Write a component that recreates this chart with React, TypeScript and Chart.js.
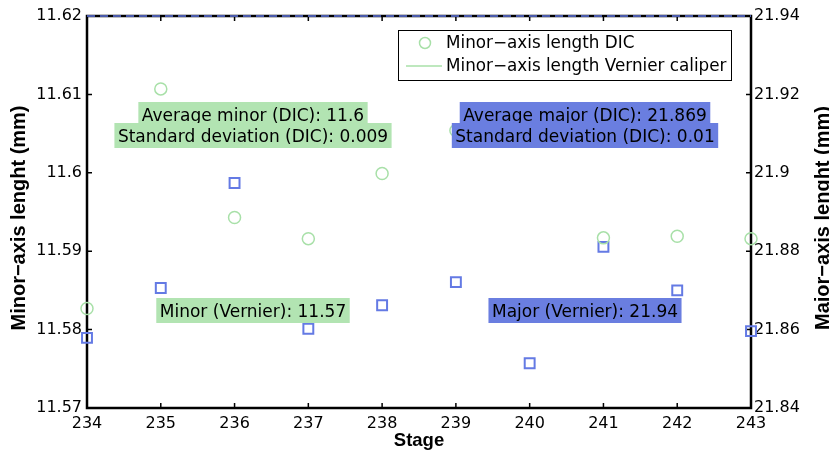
import React, { useEffect, useRef } from 'react';
import { Chart, registerables } from 'chart.js';

Chart.register(...registerables);

// ---- data ----
const stages = [234, 235, 236, 237, 238, 239, 240, 241, 242, 243];
const minorDIC = [11.5827, 11.6107, 11.5943, 11.5916, 11.5999, 11.6054, 11.6140, 11.5917, 11.5919, 11.5916];
const majorDIC = [21.8579, 21.8706, 21.8974, 21.8602, 21.8662, 21.8721, 21.8514, 21.8811, 21.87, 21.8596];
const minorVernier = 11.57;
const majorVernier = 21.94;

const stageTicks = [234, 235, 236, 237, 238, 239, 240, 241, 242, 243];
const minorTicks = [11.57, 11.58, 11.59, 11.6, 11.61, 11.62];
const majorTicks = [21.84, 21.86, 21.88, 21.9, 21.92, 21.94];

const legendLabels = ['Minor\u2212axis length DIC', 'Minor\u2212axis length Vernier caliper'];
const minorStatsLines = ['Average minor (DIC): 11.6', 'Standard deviation (DIC): 0.009'];
const majorStatsLines = ['Average major (DIC): 21.869', 'Standard deviation (DIC): 0.01'];
const minorVernierLabel = 'Minor (Vernier): 11.57';
const majorVernierLabel = 'Major (Vernier): 21.94';
const xTitle = 'Stage';
const yTitle = 'Minor\u2212axis lenght (mm)';
const y2Title = 'Major\u2212axis lenght (mm)';

// ---- styles ----
const GREEN = 'rgb(168,224,168)';
const GREEN_FILL = 'rgb(178,228,178)';
const BLUE = 'rgb(100,122,228)';
const BLUE_FILL = 'rgb(106,126,224)';
const TEXT_FONT = '"DejaVu Sans", sans-serif';
const BOLD_FONT = 'bold 20px "Liberation Sans", Arial, sans-serif';

function drawBoxedLines(ctx: CanvasRenderingContext2D, lines: string[], cx: number, baseline0: number, fill: string) {
  ctx.font = `17px ${TEXT_FONT}`;
  ctx.textAlign = 'center';
  ctx.textBaseline = 'alphabetic';
  lines.forEach((t, i) => {
    const b = baseline0 + i * 21;
    const w = ctx.measureText(t).width + 7;
    ctx.fillStyle = fill;
    ctx.fillRect(cx - w / 2, b - 19, w, 25);
    ctx.fillStyle = '#000';
    ctx.fillText(t, cx, b);
  });
}

function drawFrame(chart: any) {
  const { ctx, chartArea, scales } = chart;
  const { left, right, top, bottom } = chartArea;
  ctx.save();
  ctx.strokeStyle = '#000';
  ctx.lineWidth = 2.5;
  ctx.strokeRect(left, top, right - left, bottom - top);
  ctx.lineWidth = 1.5;
  const tl = 5;
  ctx.beginPath();
  for (const v of stageTicks) {
    const x = scales.x.getPixelForValue(v);
    ctx.moveTo(x, bottom); ctx.lineTo(x, bottom - tl);
    ctx.moveTo(x, top); ctx.lineTo(x, top + tl);
  }
  for (const v of minorTicks) {
    const y = scales.y.getPixelForValue(v);
    ctx.moveTo(left, y); ctx.lineTo(left + tl, y);
  }
  for (const v of majorTicks) {
    const y = scales.y2.getPixelForValue(v);
    ctx.moveTo(right, y); ctx.lineTo(right - tl, y);
  }
  ctx.stroke();
  ctx.restore();
}

const decorPlugin = {
  id: 'decor',
  afterDatasetDraw(chart: any, args: any) {
    // frame goes right after the (bottom-most) Vernier minor line
    if (args.index === 1) drawFrame(chart);
  },
  afterDatasetsDraw(chart: any) {
    const { ctx, chartArea } = chart;
    const { left, right } = chartArea;
    ctx.save();
    // annotations
    drawBoxedLines(ctx, minorStatsLines, 253, 121, GREEN_FILL);
    drawBoxedLines(ctx, majorStatsLines, 585, 121, BLUE_FILL);
    drawBoxedLines(ctx, [minorVernierLabel], 253, 317, GREEN_FILL);
    drawBoxedLines(ctx, [majorVernierLabel], 585, 317, BLUE_FILL);

    // legend
    const lx = 398, ly = 30, lw = 333, lh = 50;
    ctx.fillStyle = '#fff';
    ctx.fillRect(lx, ly, lw, lh);
    ctx.strokeStyle = '#000';
    ctx.lineWidth = 1;
    ctx.strokeRect(lx + 0.5, ly + 0.5, lw, lh);
    ctx.strokeStyle = GREEN;
    ctx.lineWidth = 1.5;
    ctx.beginPath();
    ctx.arc(425, 43, 5.5, 0, Math.PI * 2);
    ctx.stroke();
    ctx.beginPath();
    ctx.moveTo(406, 66); ctx.lineTo(442, 66);
    ctx.stroke();
    ctx.fillStyle = '#000';
    ctx.font = `16.8px ${TEXT_FONT}`;
    ctx.textAlign = 'left';
    ctx.textBaseline = 'middle';
    ctx.fillText(legendLabels[0], 446, 44);
    ctx.fillText(legendLabels[1], 446, 67);

    // axis titles
    ctx.font = BOLD_FONT;
    ctx.textAlign = 'center';
    ctx.textBaseline = 'middle';
    ctx.save();
    ctx.translate(19, 218);
    ctx.rotate(-Math.PI / 2);
    ctx.fillText(yTitle, 0, 0);
    ctx.restore();
    ctx.save();
    ctx.translate(823, 218);
    ctx.rotate(-Math.PI / 2);
    ctx.fillText(y2Title, 0, 0);
    ctx.restore();
    ctx.font = 'bold 18.5px "Liberation Sans", Arial, sans-serif';
    ctx.textBaseline = 'alphabetic';
    ctx.fillText(xTitle, (left + right) / 2, 446);
    ctx.restore();
  },
};

export default function App() {
  const ref = useRef<HTMLCanvasElement>(null);
  useEffect(() => {
    if (!ref.current) return;
    const fmt = (v: any) => String(Number(Number(v).toFixed(2)));
    const tickFont = { family: 'DejaVu Sans', size: 16 };
    const chart = new Chart(ref.current, {
      type: 'scatter',
      data: {
        datasets: [
          {
            label: legendLabels[0],
            data: stages.map((s, i) => ({ x: s, y: minorDIC[i] })),
            yAxisID: 'y',
            pointStyle: 'circle',
            pointRadius: 6,
            borderColor: GREEN,
            backgroundColor: 'rgba(0,0,0,0)',
            borderWidth: 1.5,
            clip: false as any,
            order: 0,
          },
          {
            label: legendLabels[1],
            data: [{ x: stages[0], y: minorVernier }, { x: stages[stages.length - 1], y: minorVernier }],
            yAxisID: 'y',
            showLine: true,
            pointRadius: 0,
            borderColor: GREEN,
            borderWidth: 1.5,
            clip: false as any,
            order: 9,
          },
          {
            label: 'Major-axis length DIC',
            data: stages.map((s, i) => ({ x: s, y: majorDIC[i] })),
            yAxisID: 'y2',
            pointStyle: 'rect',
            pointRadius: 7,
            borderColor: BLUE,
            backgroundColor: 'rgba(0,0,0,0)',
            borderWidth: 2,
            clip: false as any,
            order: 0,
          },
          {
            label: 'Major-axis length Vernier caliper',
            data: [{ x: stages[0], y: majorVernier }, { x: stages[stages.length - 1], y: majorVernier }],
            yAxisID: 'y2',
            showLine: true,
            pointRadius: 0,
            borderColor: BLUE,
            borderWidth: 1.5,
            borderDash: [8, 5],
            clip: false as any,
            order: 0,
          },
        ],
      },
      options: {
        animation: false,
        responsive: false,
        layout: { padding: { top: 16, left: 0, right: 0, bottom: 0 } },
        plugins: { legend: { display: false }, tooltip: { enabled: false } },
        scales: {
          x: {
            type: 'linear',
            min: 234,
            max: 243,
            grid: { display: false, drawTicks: false },
            border: { display: false },
            afterBuildTicks: (s: any) => { s.ticks = stageTicks.map((v) => ({ value: v })); },
            afterFit: (s: any) => { s.height = 45; },
            ticks: { color: '#000', font: tickFont, padding: 6, maxRotation: 0 },
          },
          y: {
            type: 'linear',
            position: 'left',
            min: 11.57,
            max: 11.62,
            grid: { display: false, drawTicks: false },
            border: { display: false },
            afterBuildTicks: (s: any) => { s.ticks = minorTicks.map((v) => ({ value: v })); },
            afterFit: (s: any) => { s.width = 87; },
            ticks: { color: '#000', font: tickFont, padding: 5, callback: fmt },
          },
          y2: {
            type: 'linear',
            position: 'right',
            min: 21.84,
            max: 21.94,
            grid: { display: false, drawTicks: false },
            border: { display: false },
            afterBuildTicks: (s: any) => { s.ticks = majorTicks.map((v) => ({ value: v })); },
            afterFit: (s: any) => { s.width = 78; },
            ticks: { color: '#000', font: tickFont, padding: 3, callback: fmt },
          },
        },
      },
      plugins: [decorPlugin],
    });
    return () => chart.destroy();
  }, []);
  return (
    <div style={{ position: 'absolute', left: 0, top: 0, width: 829, height: 453, background: '#fff' }}>
      <canvas ref={ref} width={829} height={453} />
    </div>
  );
}
